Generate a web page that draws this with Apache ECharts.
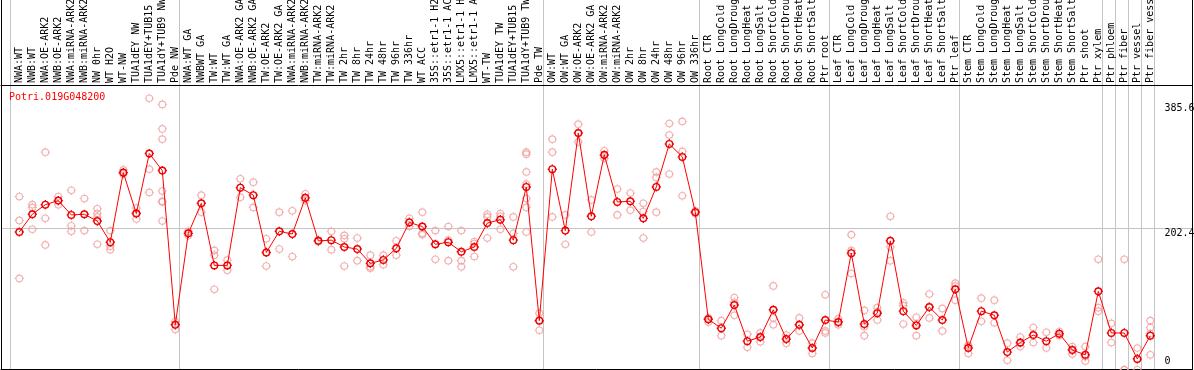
<!DOCTYPE html>
<html><head><meta charset="utf-8">
<script src="https://cdn.jsdelivr.net/npm/echarts@6/dist/echarts.min.js"></script>
<style>html,body{margin:0;padding:0;background:#fff}#c{width:1194px;height:370px}</style>
</head><body><div id="c"></div>
<script>
const geneName = 'Potri.019G048200';
const categories = [
 'NWA:WT','NWB:WT','NWA:OE-ARK2','NWB:OE-ARK2','NWA:miRNA-ARK2','NWB:miRNA-ARK2','NW 0hr','WT H2O','WT-NW','TUA1dEY NW','TUA1dEY+TUB15 NW','TUA1dY+TUB9 NW','Pde NW',
 'NWA:WT GA','NWBWT GA','TW:WT','TW:WT GA','NWA:OE-ARK2 GA','NWB:OE-ARK2 GA','TW:OE-ARK2','TW:OE-ARK2 GA','NWA:miRNA-ARK2 GA','NWB:miRNA-ARK2 GA','TW:miRNA-ARK2','TW:miRNA-ARK2 GA',
 'TW 2hr','TW 8hr','TW 24hr','TW 48hr','TW 96hr','TW 336hr','WT ACC','35S::etr1-1 H2O','35S::etr1-1 ACC','LMX5::etr1-1 H2O','LMX5::etr1-1 ACC','WT-TW','TUA1dEY TW','TUA1dEY+TUB15 TW','TUA1dY+TUB9 TW','Pde TW',
 'OW:WT','OW:WT GA','OW:OE-ARK2','OW:OE-ARK2 GA','OW:miRNA-ARK2','OW:miRNA-ARK2 GA','OW 2hr','OW 8hr','OW 24hr','OW 48hr','OW 96hr','OW 336hr',
 'Root CTR','Root LongCold','Root LongDrought','Root LongHeat','Root LongSalt','Root ShortCold','Root ShortDrought','Root ShortHeat','Root ShortSalt','Ptr root',
 'Leaf CTR','Leaf LongCold','Leaf LongDrought','Leaf LongHeat','Leaf LongSalt','Leaf ShortCold','Leaf ShortDrought','Leaf ShortHeat','Leaf ShortSalt','Ptr leaf',
 'Stem CTR','Stem LongCold','Stem LongDrought','Stem LongHeat','Stem LongSalt','Stem ShortCold','Stem ShortDrought','Stem ShortHeat','Stem ShortSalt','Ptr shoot','Ptr xylem',
 'Ptr phloem','Ptr fiber','Ptr vessel','Ptr fiber vessel'
];
const groupStarts = [0, 13, 41, 53, 63, 73, 84, 85, 86, 87, 88];
const meanValues = [
 197,223,237,243,222,223,213,182,284,224,312,287,61,
 195,239,148,148,262,251,167,198,194,247,184,185,175,172,151,156,173,211,205,179,182,168,175,210,215,185,263,67,
 289,199,342,220,310,241,242,217,263,326,307,226,
 69,56,90,37,43,83,40,61,27,68,
 65,166,62,78,184,81,60,87,68,113,
 27,81,75,21,35,46,37,48,24,17,110,
 49,49,11,45
];
const replicateValues = [
 [249,214,129],[237,233,201],[314,217,178],[249,243,237],[258,206,198],[246,199],[231,224,219,179],[199,176,171],[288,284,282],[232,225,216],[393,289,255],[384,348,333,257,242,241,213],[66,62,54],
 [198,195,192],[251,226],[170,163,113],[156,148,141],[275,248],[270,233],[187,167,147],[226,172],[228,161],[253,247,243],[185,184,183],[198,171],[192,187,147],[188,155],[163,146,144],[163,149],[184,163],[217,212,205],[226,195,193],[199,179,157],[205,185,155],[199,155,146],[183,180,161],[223,219,188],[224,220,201],[219,195,146],[314,311,285,267,246,233,197],[78,68,53],
 [333,314,219],[222,179],[355,342,329],[244,197],[316,309,305],[260,222],[254,229],[239,227,188],[285,277,226],[356,339,282],[359,315,250],[228,226,224],
 [71,69,65],[67,45],[101,94,75],[47,28],[49,43,36],[118,71,61],[46,40,34],[71,61,52],[34,27,19],[105,52,49],
 [70,64,61],[193,170,136],[82,58,45],[86,80,68],[220,175,155],[93,89,62],[72,62,45],[106,87,71],[85,52],[122,118,97],
 [31,30,19],[100,66],[97,64],[34,9],[43,34,29],[57,35],[50,27],[51,47,45],[29,25,18],[29,14,8],[157,86,81],
 [63,35],[157,-5,-5],[27,11,-5],[67,57,48,17]
];
const yTickLabels = [202.4, 385.6];
const yGridValues = [202.4];
const yZeroLabel = [0];

const FONT = 'DejaVu Sans Mono';
const X_MIN = -1.408, X_MAX = 90.246, SEP_SHIFT = 0.66;
const Y_MIN = -3.8, Y_MAX = 412.4;
const sepValues = groupStarts.map(s => s - SEP_SHIFT);
// open circle with four short ticks (drawn as a symbol, scaled to symbolSize)
const markPath = 'path://M4.6,0L4.6,1.3M4.6,7.9L4.6,9.2M0,4.6L1.3,4.6M7.9,4.6L9.2,4.6' +
  'M7.9,4.6C7.9,6.42 6.42,7.9 4.6,7.9C2.78,7.9 1.3,6.42 1.3,4.6C1.3,2.78 2.78,1.3 4.6,1.3C6.42,1.3 7.9,2.78 7.9,4.6Z';

const meanData = meanValues.map((v, i) => [i, v]);
const repData = [];
replicateValues.forEach((arr, i) => arr.forEach(v => repData.push([i, v])));

const hiddenAxis = {axisLine:{show:false}, axisTick:{show:false}, axisLabel:{show:false}, splitLine:{show:false}};
const chart = echarts.init(document.getElementById('c'), null, {renderer:'canvas'});
chart.setOption({
  animation: false,
  backgroundColor: '#fff',
  title: {text: geneName, left: 9, top: 92, padding: 0,
    textStyle: {color: '#ff0000', fontSize: 10, fontWeight: 'normal', fontFamily: FONT}},
  grid: [
    {left: 1, right: 1.5, top: 0, bottom: 1, outerBoundsMode: 'none', containLabel: false},
    {left: 1, right: 1.5, top: 85, bottom: 1, outerBoundsMode: 'none', containLabel: false},
    {left: 12.8, width: 1144, top: 85, bottom: 1, outerBoundsMode: 'none', containLabel: false}
  ],
  xAxis: [
    {gridIndex: 0, type: 'value', min: X_MIN, max: X_MAX, position: 'bottom',
     axisLine: {show: true, onZero: false, lineStyle: {color: '#000', width: 1}},
     axisTick: {show: false, customValues: sepValues}, axisLabel: {show: false},
     splitLine: {show: true, lineStyle: {color: '#c4c4c4', width: 1}}},
    {gridIndex: 1, type: 'value', min: X_MIN, max: X_MAX, position: 'top',
     axisLine: {show: true, onZero: false, lineStyle: {color: '#000', width: 1}},
     axisTick: {show: false}, axisLabel: {show: false}, splitLine: {show: false}},
    {gridIndex: 2, type: 'category', data: categories, position: 'top', boundaryGap: true,
     axisLine: {show: false}, axisTick: {show: false}, splitLine: {show: false},
     axisLabel: {interval: 0, rotate: 90, margin: 2, color: '#000', fontSize: 10, fontFamily: FONT}}
  ],
  yAxis: [
    {gridIndex: 0, type: 'value', min: 0, max: 1, position: 'left',
     axisLine: {show: true, onZero: false, lineStyle: {color: '#000', width: 1}},
     axisTick: {show: false}, axisLabel: {show: false}, splitLine: {show: false}},
    {gridIndex: 0, type: 'value', min: 0, max: 1, position: 'right',
     axisLine: {show: true, onZero: false, lineStyle: {color: '#000', width: 1}},
     axisTick: {show: false}, axisLabel: {show: false}, splitLine: {show: false}},
    {gridIndex: 1, type: 'value', min: Y_MIN, max: Y_MAX, position: 'right',
     axisLine: {show: false}, axisTick: {show: false, customValues: yGridValues},
     splitLine: {show: true, lineStyle: {color: '#c4c4c4', width: 1}},
     axisLabel: {show: true, inside: true, align: 'left', verticalAlign: 'top', margin: 28,
       customValues: yTickLabels, color: '#000', fontSize: 10, fontFamily: FONT,
       formatter: v => String(v)}},
    {gridIndex: 1, type: 'value', min: Y_MIN, max: Y_MAX, position: 'right',
     axisLine: {show: false}, axisTick: {show: false, customValues: yZeroLabel}, splitLine: {show: false},
     axisLabel: {show: true, inside: true, align: 'left', verticalAlign: 'bottom', margin: 28,
       customValues: yZeroLabel, color: '#000', fontSize: 10, fontFamily: FONT,
       formatter: v => String(v)}},
    Object.assign({gridIndex: 2, type: 'value'}, hiddenAxis)
  ],
  series: [
    {type: 'scatter', xAxisIndex: 1, yAxisIndex: 2, data: repData, clip: false, z: 3,
     symbol: markPath, symbolSize: 9.2,
     itemStyle: {color: 'rgba(0,0,0,0)', borderColor: '#f09c9c', borderWidth: 1.1}},
    {type: 'line', xAxisIndex: 1, yAxisIndex: 2, data: meanData, z: 4,
     symbol: markPath, symbolSize: 9.2, showAllSymbol: true,
     lineStyle: {color: '#ff0000', width: 1},
     itemStyle: {color: 'rgba(0,0,0,0)', borderColor: '#ee0000', borderWidth: 1.4}}
  ]
});
</script></body></html>
